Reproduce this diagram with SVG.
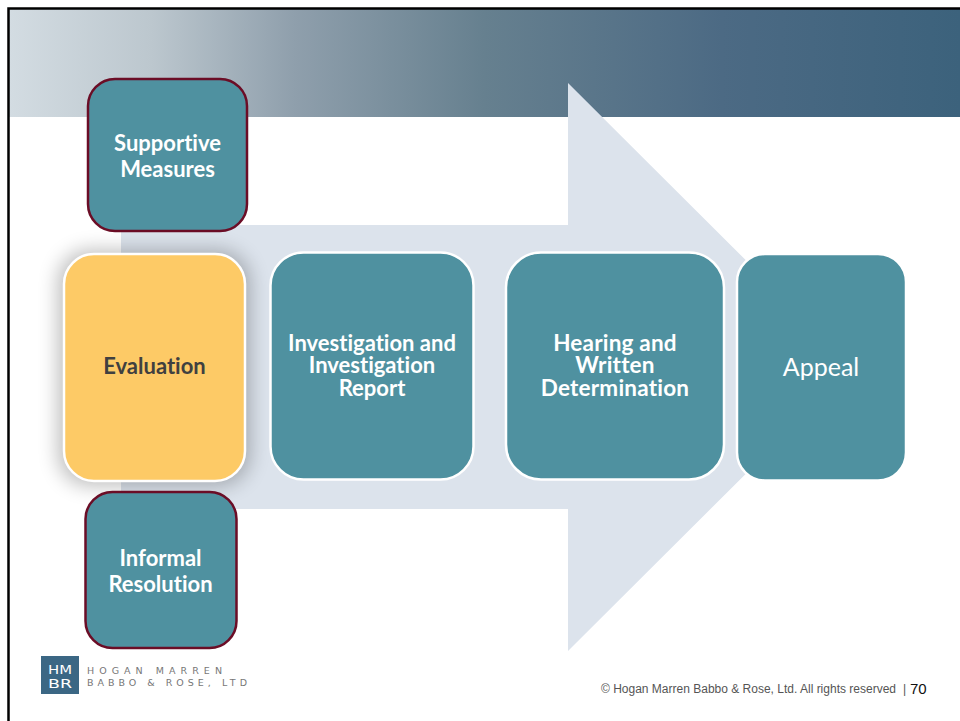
<svg xmlns="http://www.w3.org/2000/svg" width="960" height="721" viewBox="0 0 960 721">
<defs>
<linearGradient id="band" x1="0" y1="0" x2="1" y2="0">
<stop offset="0" stop-color="#d3dce2"/><stop offset="0.15" stop-color="#bcc7ce"/><stop offset="0.3" stop-color="#8f9fac"/><stop offset="0.5" stop-color="#66808f"/><stop offset="0.75" stop-color="#4c6a84"/><stop offset="1" stop-color="#3c627c"/>
</linearGradient>
<filter id="glow" x="-30%" y="-30%" width="160%" height="160%"><feGaussianBlur stdDeviation="10"/></filter>
</defs>
<style>
.t{font-family:"Lato","Liberation Sans",sans-serif;font-weight:700;font-size:22px;fill:#fff;text-anchor:middle;font-variant-ligatures:none}
.w{font-size:22.500px;letter-spacing:.2px}
.box{fill:#4f91a0;stroke:#fff;stroke-width:2.5}
.side{fill:#4f91a0;stroke:#6b0d26;stroke-width:2.5}
.logo{font-family:"DejaVu Sans",sans-serif;font-size:9.500px;fill:#777}
.hm{font-family:"DejaVu Sans",sans-serif;font-size:13px;fill:#fff}
.foot{font-family:"Liberation Sans",sans-serif;font-size:12px;fill:#555}
</style>
<rect width="960" height="721" fill="#fff"/>
<rect x="9" y="9" width="951" height="108" fill="url(#band)"/>
<path d="M8.500 721V8.500H960" fill="none" stroke="#000" stroke-width="2.500"/>
<polygon points="121,225 568,225 568,83 853,367 568,651 568,509 121,509" fill="#dce3ec"/>
<g id="connectors"/>
<g id="supportive-measures"><rect class="side" x="88" y="79" width="159" height="152" rx="27"/><text class="t"><tspan x="167.500" y="151">Supportive</tspan><tspan x="167.500" y="177">Measures</tspan></text></g>
<g id="evaluation"><rect x="58" y="250" width="192" height="236" rx="32" fill="#000" opacity="0.26" filter="url(#glow)"/><rect x="64" y="254" width="181" height="227" rx="30" fill="#fdca66" stroke="#fff" stroke-width="2.500"/><text class="t" x="154.500" y="374" style="fill:#404040">Evaluation</text></g>
<g id="investigation"><rect class="box" x="270.500" y="252.500" width="203" height="227" rx="33"/><text class="t"><tspan x="372" y="351">Investigation and</tspan><tspan x="372" y="373">Investigation</tspan><tspan x="372" y="396">Report</tspan></text></g>
<g id="hearing"><rect class="box" x="506" y="252.500" width="218" height="227" rx="35"/><text class="t w"><tspan x="615" y="351">Hearing and</tspan><tspan x="615" y="373">Written</tspan><tspan x="615" y="396">Determination</tspan></text></g>
<g id="appeal"><rect class="box" x="737" y="254" width="169" height="226.500" rx="28"/><text x="821" y="376" text-anchor="middle" style="font-family:Lato,'Liberation Sans',sans-serif;font-size:25px;fill:#fff">Appeal</text></g>
<g id="informal-resolution"><rect class="side" x="85.500" y="492" width="151" height="156" rx="27"/><text class="t"><tspan x="160.500" y="566">Informal</tspan><tspan x="160.500" y="592">Resolution</tspan></text></g>
<g id="logo"><rect x="41" y="656" width="38" height="38" fill="#3b6784"/><text class="hm" x="48" y="674" textLength="24" lengthAdjust="spacingAndGlyphs">HM</text><text class="hm" x="48" y="688" textLength="24" lengthAdjust="spacingAndGlyphs">BR</text>
<text class="logo" x="87" y="674" textLength="135">HOGAN MARREN</text><text class="logo" x="87" y="686" textLength="160">BABBO &amp; ROSE, LTD</text></g>
<g id="footer"><text class="foot" x="601" y="693">© Hogan Marren Babbo &amp; Rose, Ltd. All rights reserved</text><text class="foot" x="903" y="693">|</text><text x="910" y="694" style="font-family:'Liberation Sans',sans-serif;font-size:15px;fill:#111">70</text></g>
</svg>
